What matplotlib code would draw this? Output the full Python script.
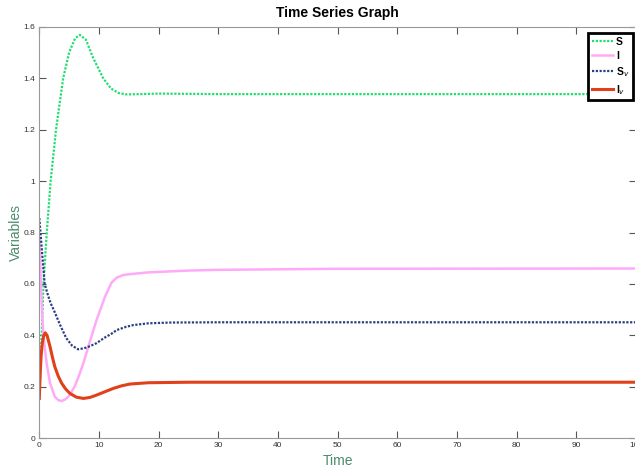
import matplotlib
matplotlib.use('Agg')
from matplotlib import pyplot as plt

plt.rcParams['font.family'] = ['Liberation Sans Narrow', 'Liberation Sans', 'DejaVu Sans']

# values
t_s = [0, 0.4, 0.7, 1.25, 1.9, 2.8, 4.0, 5.0, 6.0, 6.8, 7.8, 9.0, 10.7, 12.0, 13.3, 14.6, 17, 20, 30, 100]
s = [0.22, 0.4, 0.6, 0.8, 1.0, 1.2, 1.4, 1.5, 1.555, 1.568, 1.55, 1.48, 1.4, 1.36, 1.342, 1.337, 1.338, 1.34, 1.338, 1.338]

t_i = [0, 0.2, 0.45, 0.67, 1.24, 1.8, 2.6, 3.2, 3.75, 4.4, 5.1, 6.0, 6.8, 7.5, 8.2, 9.6, 11.0, 12.1, 13.0, 14.1, 16, 18.3, 25, 30, 50, 100]
i_ = [0.78, 0.65, 0.5, 0.4, 0.29, 0.214, 0.162, 0.148, 0.145, 0.152, 0.168, 0.205, 0.253, 0.3, 0.356, 0.46, 0.55, 0.605, 0.625, 0.635, 0.64, 0.645, 0.652, 0.655, 0.659, 0.66]

t_sv = [0, 0.4, 0.9, 1.4, 1.9, 2.4, 3.5, 4.5, 5.5, 6.5, 7.5, 8.5, 9.6, 11, 12, 13, 14.5, 15.7, 18.3, 22, 30, 100]
sv = [0.856, 0.74, 0.6, 0.56, 0.525, 0.5, 0.44, 0.39, 0.36, 0.346, 0.35, 0.358, 0.37, 0.392, 0.405, 0.421, 0.433, 0.44, 0.447, 0.45, 0.451, 0.451]

t_iv = [0, 0.15, 0.3, 0.5, 0.75, 1.0, 1.3, 1.8, 2.2, 2.6, 3.2, 3.75, 4.4, 5.1, 6.2, 7.4, 8.5, 9.6, 11, 12.4, 13.8, 15.2, 18.3, 25, 100]
iv = [0.155, 0.25, 0.32, 0.37, 0.4, 0.41, 0.4, 0.356, 0.315, 0.278, 0.24, 0.214, 0.192, 0.175, 0.16, 0.155, 0.159, 0.168, 0.181, 0.194, 0.204, 0.211, 0.216, 0.218, 0.218]

xticks = [0, 10, 20, 30, 40, 50, 60, 70, 80, 90, 100]
yticks = [0, 0.2, 0.4, 0.6, 0.8, 1, 1.2, 1.4, 1.6]
ylabels = ['0', '0.2', '0.4', '0.6', '0.8', '1', '1.2', '1.4', '1.6']

fig = plt.figure(figsize=(6.35, 4.72), dpi=100)
ax = fig.add_axes([0.0619, 0.0714, 0.9397, 0.872])

dots = (0, (1, 0.7))
ax.plot(t_s, s, color='#22dd70', linestyle=dots, linewidth=1.6, label='S')
ax.plot(t_i, i_, color='#ffaaf8', linestyle='-', linewidth=1.8, label='I')
ax.plot(t_sv, sv, color='#2a3f80', linestyle=dots, linewidth=1.6, label='S$_v$')
ax.plot(t_iv, iv, color='#e0401a', linestyle='-', linewidth=2.2, label='I$_v$')

ax.set_xlim(0, 100)
ax.set_ylim(0, 1.6)
ax.set_xticks(xticks)
ax.set_yticks(yticks)
ax.set_yticklabels(ylabels)
ax.tick_params(direction='in', top=True, right=True, length=5, labelsize=6, colors='#555555', labelcolor='#333333', pad=3)
for sp in ax.spines.values():
    sp.set_color('#999999')

ax.set_title('Time Series Graph', fontsize=10, fontweight='bold', pad=7)
ax.set_xlabel('Time', color='#4a8c6c', fontsize=10, labelpad=3)
ax.set_ylabel('Variables', color='#4a8c6c', fontsize=10)
ax.yaxis.set_label_coords(-0.027, 0.5)

leg = ax.legend(loc='upper right', bbox_to_anchor=(0.9985, 0.99), fontsize=7.5, handlelength=2.0,
                handletextpad=0.3, labelspacing=0.4, borderpad=0.35, fancybox=False, framealpha=1,
                borderaxespad=0.2)
leg.get_frame().set_edgecolor('black')
leg.get_frame().set_linewidth(2)
for txt in leg.get_texts():
    txt.set_fontweight('bold')

plt.savefig('out.png')
